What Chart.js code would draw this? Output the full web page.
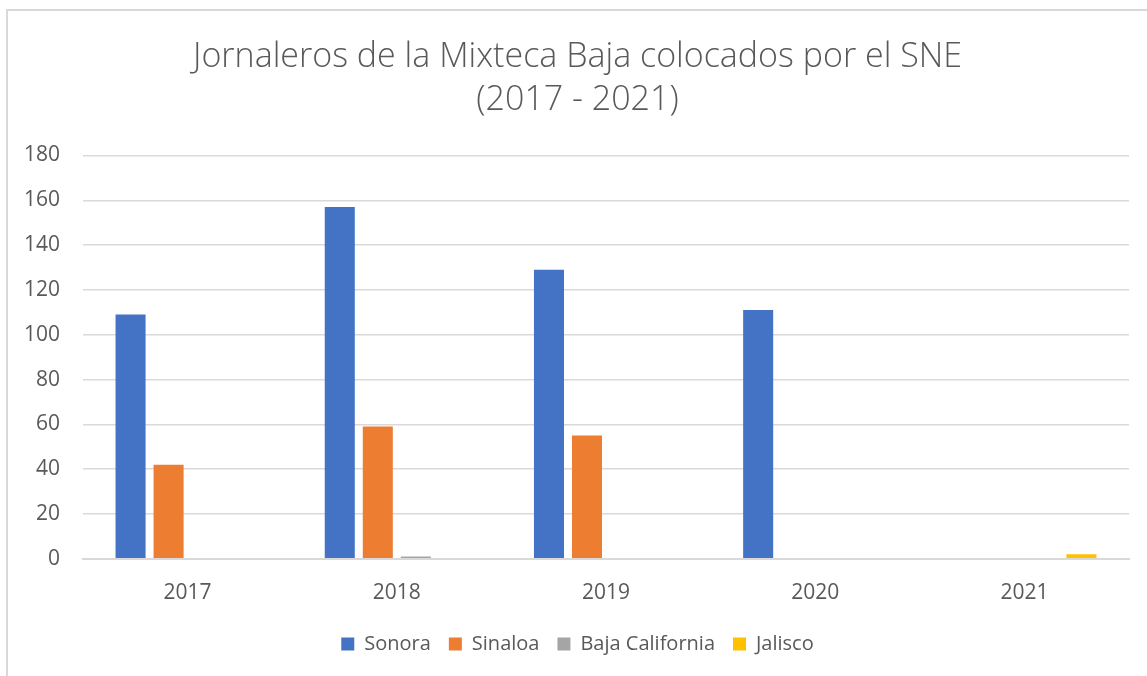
<!DOCTYPE html>
<html>
<head>
<meta charset="utf-8">
<script src="https://cdn.jsdelivr.net/npm/chart.js@4.4.1/dist/chart.umd.min.js"></script>
<style>
  html, body { margin: 0; padding: 0; background: #ffffff; }
  #wrap { position: relative; width: 1147px; height: 676px; }
</style>
</head>
<body>
<div id="wrap"><canvas id="c" width="1147" height="676"></canvas></div>
<script>
const categories = ['2017', '2018', '2019', '2020', '2021'];
const sonora = [109, 157, 129, 111, 0];
const sinaloa = [42, 59, 55, 0, 0];
const bajaCalifornia = [0, 1, 0, 0, 0];
const jalisco = [0, 0, 0, 0, 2];
const yTicks = [0, 20, 40, 60, 80, 100, 120, 140, 160, 180];
const titleLines = ['Jornaleros de la Mixteca Baja colocados por el SNE', '(2017 - 2021)'];

const FONT = "'Open Sans', 'Noto Sans', sans-serif";
const TXT = '#595959';

const frame = {
  id: 'frame',
  beforeDraw(chart) {
    const ctx = chart.ctx;
    ctx.save();
    ctx.fillStyle = '#ffffff';
    ctx.fillRect(0, 0, chart.width, chart.height);
    ctx.strokeStyle = '#d9d9d9';
    ctx.lineWidth = 2;
    ctx.beginPath();
    ctx.moveTo(chart.width, 10);
    ctx.lineTo(7, 10);
    ctx.lineTo(7, chart.height);
    ctx.stroke();
    ctx.restore();
  }
};

function ds(label, data, color) {
  return {
    label, data, backgroundColor: color, borderWidth: 0,
    categoryPercentage: 0.727, barPercentage: 0.79
  };
}

new Chart(document.getElementById('c'), {
  type: 'bar',
  data: {
    labels: categories,
    datasets: [
      ds('Sonora', sonora, '#4472C4'),
      ds('Sinaloa', sinaloa, '#ED7D31'),
      ds('Baja California', bajaCalifornia, '#A5A5A5'),
      ds('Jalisco', jalisco, '#FFC000')
    ]
  },
  options: {
    responsive: false,
    animation: false,
    devicePixelRatio: 1,
    layout: { padding: { top: 22, left: 26, right: 18, bottom: 12 } },
    plugins: {
      title: {
        display: true,
        text: titleLines,
        color: TXT,
        font: { family: FONT, size: 34, weight: 300, lineHeight: '43px' },
        padding: { top: 14, bottom: 33.5 }
      },
      legend: {
        position: 'bottom',
        labels: {
          color: TXT,
          font: { family: FONT, size: 20 },
          boxWidth: 13, boxHeight: 13,
          padding: 18
        }
      },
      tooltip: { enabled: false }
    },
    scales: {
      x: {
        grid: { display: false, drawTicks: false },
        border: { display: true, color: '#d9d9d9', width: 2 },
        ticks: { color: TXT, font: { family: FONT, size: 21 }, padding: 22 },
        afterFit(scale) { scale.height = scale.height - 12; }
      },
      y: {
        min: 0, max: 180,
        afterBuildTicks(scale) { scale.ticks = yTicks.map(v => ({ value: v })); },
        afterFit(scale) { scale.width = 57; },
        grid: { color: '#d9d9d9', lineWidth: 1.5, drawTicks: false },
        border: { display: false },
        ticks: { color: TXT, font: { family: FONT, size: 21 }, padding: 23 }
      }
    }
  },
  plugins: [frame]
});
</script>
</body>
</html>
